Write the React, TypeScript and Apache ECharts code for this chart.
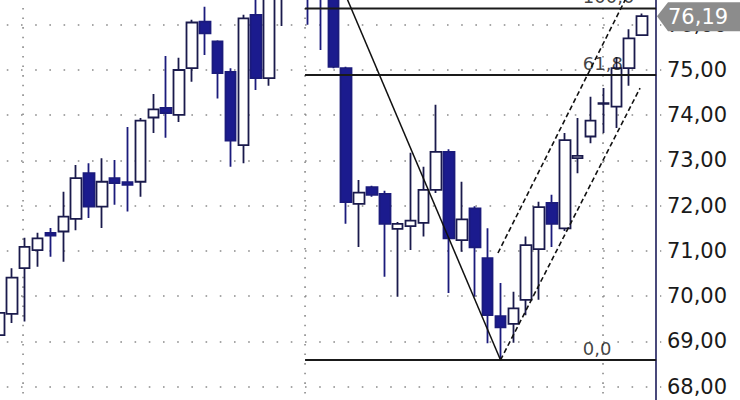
import React, { useEffect, useRef } from 'react';
import * as echarts from 'echarts';

// OHLC values (index 0 is partly cut off at the left)
const opens = [69.14, 69.61, 70.62, 71.02, 71.40, 71.43, 71.71, 72.72, 71.98, 72.61, 72.52, 72.53, 73.95, 74.16, 74.01, 75.04, 76.07, 75.63, 74.96, 73.34, 76.22, 74.82, 77.2, 77.6, 77.9, 77.3, 76.9, 75.04, 72.04, 72.41, 72.26, 71.49, 71.55, 71.62, 72.35, 73.19, 71.24, 71.94, 70.84, 69.56, 69.39, 69.92, 71.04, 72.06, 71.50, 73.05, 73.53, 74.25, 74.19, 75.04, 75.77];
const closes = [69.63, 70.41, 71.09, 71.28, 71.34, 71.76, 72.61, 71.98, 72.53, 72.50, 72.46, 73.88, 74.13, 74.05, 75.00, 76.05, 75.81, 74.93, 73.44, 76.14, 74.82, 77.0, 77.6, 77.95, 77.3, 76.8, 75.07, 72.08, 72.29, 72.24, 71.60, 71.60, 71.67, 72.35, 73.19, 71.28, 71.70, 71.08, 69.58, 69.31, 69.73, 71.13, 71.97, 71.60, 73.45, 73.10, 73.88, 74.27, 75.04, 75.70, 76.19];
const lows = [68.97, 69.41, 69.44, 70.65, 70.87, 70.76, 71.46, 71.73, 71.51, 72.02, 71.87, 72.20, 73.61, 73.50, 73.85, 74.74, 75.33, 74.37, 72.86, 72.94, 74.56, 74.65, 75.97, 76.9, 76.0, 75.44, 75.04, 71.60, 71.09, 72.20, 70.43, 69.99, 71.02, 71.32, 72.28, 70.07, 70.98, 69.99, 68.96, 68.59, 68.97, 69.58, 69.92, 71.09, 71.44, 72.72, 73.38, 73.61, 73.72, 74.65, 75.77];
const highs = [69.67, 70.62, 71.29, 71.40, 71.51, 72.31, 72.90, 72.94, 73.05, 73.01, 73.74, 73.94, 74.47, 75.31, 75.27, 76.11, 76.40, 75.66, 75.04, 76.22, 76.9, 77.3, 77.9, 78.3, 78.1, 77.6, 77.1, 75.07, 72.57, 72.44, 72.33, 71.64, 73.17, 72.86, 74.23, 73.25, 72.53, 71.99, 71.50, 70.29, 70.10, 71.32, 72.09, 72.24, 73.61, 73.94, 74.41, 74.60, 75.29, 75.90, 76.25];

// one empty slot after the last candle
const days = Array.from({ length: opens.length + 1 }, (_, i) => 'D' + (i + 1));

// y-axis tick values
const yTicks = [67, 68, 69, 70, 71, 72, 73, 74, 75, 76, 77];

// Fibonacci levels: [label, price]
const fibLabels = ['100,0', '61,8', '0,0'];
const fibPrices = [76.36, 74.89, 68.59];
const fibStart = 23.8;
const fibEnd = 51.1;
const fibLabelX = 45.4;

// trend lines (x in candle index units)
const downTrend = [[26, 77.29], [39, 68.59]];
const lowerChannel = [[39, 68.59], [49.85, 74.6]];
const upperChannel = [[38.8, 70.955], [49.7, 77.12]];

// dotted period separators (candle index units)
const separators = [1.87, 23.8, 46.97];

const fmt = (v: number) => v.toFixed(2).replace('.', ',');

export default function App() {
  const ref = useRef<HTMLDivElement>(null);
  useEffect(() => {
    document.body.style.margin = '0';
    const chart = echarts.init(ref.current!, null, { renderer: 'svg' });
    const candleData = opens.map((o, i) => [o, closes[i], lows[i], highs[i]]);
    const lineBase = {
      type: 'line' as const,
      xAxisIndex: 1,
      yAxisIndex: 0,
      symbol: 'none',
      silent: true,
      z: 5,
    };
    const series: any[] = [
      {
        type: 'candlestick',
        xAxisIndex: 0,
        yAxisIndex: 0,
        data: candleData,
        barWidth: 11,
        itemStyle: {
          color: '#ffffff',
          color0: '#1b1b8e',
          borderColor: '#1a1a4c',
          borderColor0: '#1b1b7c',
          borderWidth: 1.8,
        },
        z: 3,
      },
    ];
    separators.forEach((v) => {
      series.push({
        ...lineBase,
        z: 1,
        data: [[v, yTicks[0]], [v, yTicks[yTicks.length - 1]]],
        lineStyle: { color: '#8a8a8a', width: 1.6, type: [1.6, 8] },
      });
    });
    fibPrices.forEach((p) => {
      series.push({
        ...lineBase,
        data: [[fibStart, p], [fibEnd, p]],
        lineStyle: { color: '#1a1a1a', width: 2 },
      });
    });
    series.push({
      type: 'scatter',
      xAxisIndex: 1,
      yAxisIndex: 0,
      symbolSize: 1,
      itemStyle: { color: 'rgba(0,0,0,0)' },
      silent: true,
      z: 6,
      data: fibPrices.map((p, i) => ({ value: [fibLabelX, p], name: fibLabels[i] })),
      label: {
        show: true,
        formatter: '{b}',
        position: 'top',
        align: 'left',
        distance: 2,
        color: '#111',
        fontFamily: 'DejaVu Sans',
        fontSize: 18,
      },
    });
    series.push({
      ...lineBase,
      data: downTrend,
      lineStyle: { color: '#111', width: 1.5 },
    });
    series.push({
      ...lineBase,
      data: lowerChannel,
      lineStyle: { color: '#111', width: 1.6, type: [5, 3] },
    });
    series.push({
      ...lineBase,
      data: upperChannel,
      lineStyle: { color: '#111', width: 1.6, type: [5, 3] },
    });

    chart.setOption({
      animation: false,
      backgroundColor: '#ffffff',
      grid: {
        left: -7.43,
        width: 668.7,
        top: -20.48,
        height: 452.4,
        containLabel: false,
        outerBoundsMode: 'none',
      },
      xAxis: [
        { type: 'category', data: days, show: false, boundaryGap: true },
        { type: 'value', min: -0.5, max: days.length - 0.5, show: false },
      ],
      yAxis: {
        type: 'value',
        position: 'right',
        min: yTicks[0],
        max: yTicks[yTicks.length - 1],
        interval: 1,
        offset: -5.3,
        axisLine: { show: true, onZero: false, lineStyle: { color: '#1c1c5a', width: 1.6 } },
        axisTick: { show: false },
        axisLabel: {
          formatter: (v: number) => fmt(v),
          fontFamily: 'DejaVu Sans',
          fontSize: 21,
          color: '#1a1a1a',
          margin: 11,
        },
        splitLine: {
          show: true,
          lineStyle: { color: '#8a8a8a', width: 1.6, type: [1.6, 12.6] },
        },
      },
      series,
    });

    const last = closes[closes.length - 1];
    const y = chart.convertToPixel({ yAxisIndex: 0 }, last) as number;
    const ax = 656;
    chart.setOption({
      graphic: [
        {
          type: 'polygon',
          z: 100,
          shape: {
            points: [
              [ax + 1, y],
              [ax + 12, y - 14],
              [740, y - 14],
              [740, y + 15],
              [ax + 12, y + 15],
            ],
          },
          style: { fill: '#8c8c8c' },
        },
        {
          type: 'text',
          z: 101,
          x: ax + 12,
          y: y + 1,
          style: {
            text: fmt(last),
            fill: '#ffffff',
            font: '21px "DejaVu Sans"',
            verticalAlign: 'middle',
            align: 'left',
          },
        },
      ],
    });
    return () => chart.dispose();
  }, []);
  return <div ref={ref} style={{ width: 740, height: 400 }} />;
}
